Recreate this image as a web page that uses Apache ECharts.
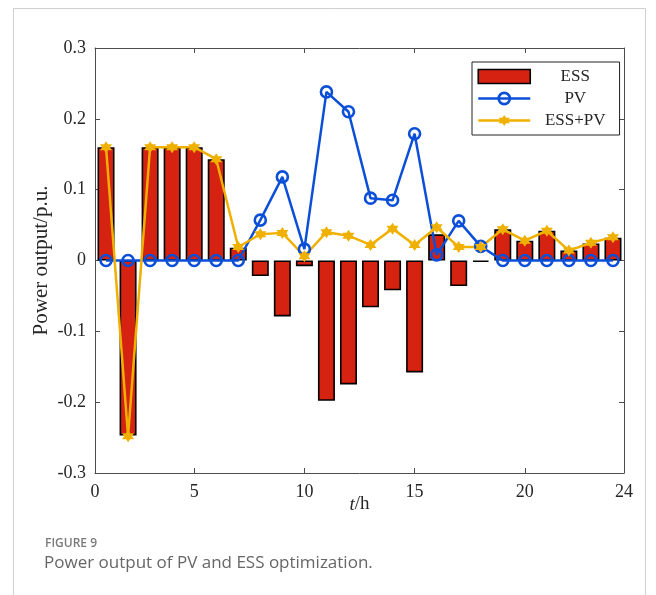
<!DOCTYPE html>
<html>
<head>
<meta charset="utf-8">
<script src="https://cdn.jsdelivr.net/npm/echarts@6/dist/echarts.min.js"></script>
<style>html,body{margin:0;padding:0;background:#fff;}#c{width:656px;height:595px;}</style>
</head>
<body>
<div id="c"></div>
<script>
// Hours (data positions)
const hours = [1,2,3,4,5,6,7,8,9,10,11,12,13,14,15,16,17,18,19,20,21,22,23,24];
// ESS power output (bars)
const essValues = [0.160,-0.247,0.160,0.160,0.160,0.143,0.018,-0.022,-0.079,-0.008,-0.198,-0.175,-0.066,-0.042,-0.158,0.037,-0.036,-0.002,0.044,0.028,0.042,0.014,0.024,0.032];
// PV power output
const pvValues = [0,0,0,0,0,0,0,0.057,0.118,0.016,0.238,0.210,0.088,0.085,0.179,0.008,0.056,0.020,0,0,0,0,0,0];
// ESS+PV power output
const essPvValues = [0.160,-0.248,0.160,0.160,0.160,0.143,0.019,0.037,0.039,0.006,0.040,0.035,0.022,0.045,0.022,0.047,0.019,0.019,0.044,0.028,0.042,0.014,0.025,0.033];
// X tick positions and their labels
const xTickValues = [0.5,5,10,15,20,24.5];
const xTickLabels = ['0','5','10','15','20','24'];
const seriesNames = ['ESS','PV','ESS+PV'];

const pair = (xs, ys) => xs.map((x,i)=>[x, ys[i]]);
const serif = 'Liberation Serif';
const axisColor = '#4d4d4d';
const blue = '#0b4fd8', yellow = '#f0b000', red = '#d62211';
const hexagram = 'path://M0,-10L2.89,-5L8.66,-5L5.77,0L8.66,5L2.89,5L0,10L-2.89,5L-8.66,5L-5.77,0L-8.66,-5L-2.89,-5Z';

const chart = echarts.init(document.getElementById('c'), null, {renderer:'canvas'});
const xBase = {
  type:'value', min:0.5, max:24.5,
  splitLine:{show:false},
  axisLine:{show:true, onZero:false, lineStyle:{color:axisColor, width:1}},
  axisTick:{show:true, inside:true, length:5, customValues:[5,10,15,20], lineStyle:{color:axisColor}}
};
const yBase = {
  type:'value', min:-0.3, max:0.3, interval:0.1,
  splitLine:{show:false},
  axisLine:{show:true, onZero:false, lineStyle:{color:axisColor, width:1}},
  axisTick:{show:true, inside:true, length:5, lineStyle:{color:axisColor}}
};
chart.setOption({
  animation:false,
  backgroundColor:'#fff',
  textStyle:{fontFamily:serif},
  grid:{left:95, right:32, top:48, bottom:122, containLabel:false},
  xAxis:[
    Object.assign({}, xBase, {
      position:'bottom',
      axisLabel:{show:true, customValues:xTickValues, margin:10, fontFamily:serif, fontSize:18, color:'#262626',
        formatter:(v)=>{const i=xTickValues.indexOf(v);return i>=0?xTickLabels[i]:'';}},
      name:'{i|t}{n|/h}', nameLocation:'middle', nameGap:22, nameMoveOverlap:false,
      nameTextStyle:{fontFamily:serif, rich:{i:{fontFamily:serif, fontStyle:'italic', fontSize:19, color:'#262626'}, n:{fontFamily:serif, fontSize:19, color:'#262626'}}}
    }),
    Object.assign({}, xBase, {position:'top', axisLabel:{show:false}})
  ],
  yAxis:[
    Object.assign({}, yBase, {
      position:'left',
      axisLabel:{show:true, margin:9, fontFamily:serif, fontSize:18, color:'#262626',
        formatter:(v)=>Math.abs(v)<1e-9?'0':v.toFixed(1)},
      name:'Power output/p.u.', nameLocation:'middle', nameGap:43, nameMoveOverlap:false,
      nameTextStyle:{fontFamily:serif, fontSize:21, color:'#262626'}
    }),
    Object.assign({}, yBase, {position:'right', axisLabel:{show:false}})
  ],
  legend:{
    orient:'vertical', left:472, top:62,
    data:[
      {name:seriesNames[0], icon:'rect', itemStyle:{color:red, borderColor:'#000', borderWidth:1.6}},
      {name:seriesNames[1], lineStyle:{color:blue, width:2.5}, itemStyle:{color:'rgba(255,255,255,0)', borderColor:blue, borderWidth:2.6}},
      {name:seriesNames[2], lineStyle:{color:yellow, width:2.5}, itemStyle:{color:yellow}}
    ],
    itemWidth:52, itemHeight:14, itemGap:5,
    padding:[6,14,6,5],
    borderColor:'#222', borderWidth:1, backgroundColor:'#fff',
    formatter:(n)=>'{c|'+n+'}',
    textStyle:{fontFamily:serif, fontSize:17, color:'#262626',
      rich:{c:{width:80, align:'center', fontFamily:serif, fontSize:17, color:'#262626'}}}
  },
  series:[
    {name:seriesNames[0], type:'bar', xAxisIndex:0, yAxisIndex:0, barWidth:17,
     data:pair(hours, essValues),
     itemStyle:{color:red, borderColor:'#000', borderWidth:1.6}},
    {name:seriesNames[1], type:'line', xAxisIndex:0, yAxisIndex:0,
     data:pair(hours, pvValues),
     symbol:'circle', symbolSize:11, showAllSymbol:true,
     lineStyle:{color:blue, width:2.5},
     itemStyle:{color:'rgba(255,255,255,0)', borderColor:blue, borderWidth:2.6}},
    {name:seriesNames[2], type:'line', xAxisIndex:0, yAxisIndex:0,
     data:pair(hours, essPvValues),
     symbol:hexagram, symbolSize:12, showAllSymbol:true,
     lineStyle:{color:yellow, width:2.5},
     itemStyle:{color:yellow, borderWidth:0}}
  ],
  graphic:[
    {type:'rect', shape:{x:13.5, y:8.5, width:632, height:620}, style:{fill:'none', stroke:'#cfcfcf', lineWidth:1}, z:-10, silent:true},
    {type:'text', left:45, top:538, style:{text:'FIGURE 9', fontFamily:'"Open Sans","Noto Sans",sans-serif', fontSize:12, fontWeight:600, fill:'#7a7a7a'}},
    {type:'text', left:44, top:555, style:{text:'Power output of PV and ESS optimization.', fontFamily:'"Open Sans","Noto Sans",sans-serif', fontSize:17, fill:'#666'}}
  ]
});
</script>
</body>
</html>
